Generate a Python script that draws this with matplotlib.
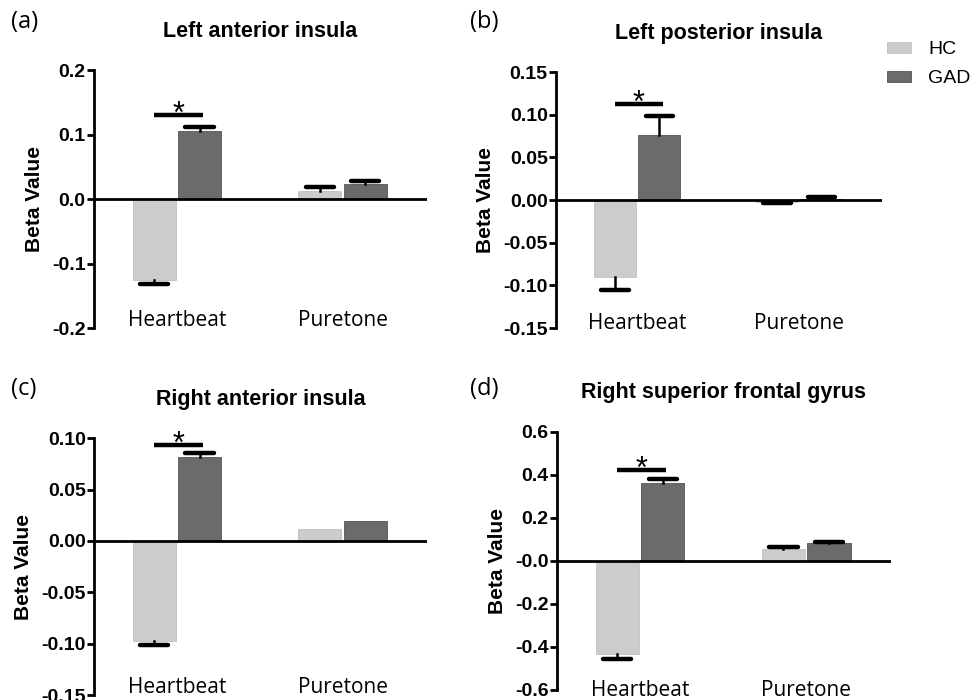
import numpy as np
import matplotlib.pyplot as plt

# data
conditions = ["Heartbeat", "Puretone"]
groups = ["HC", "GAD"]
titles = ["Left anterior insula", "Left posterior insula",
          "Right anterior insula", "Right superior frontal gyrus"]
panel_tags = ["(a)", "(b)", "(c)", "(d)"]

hc_means = [[-0.125, 0.013], [-0.090, -0.002], [-0.097, 0.012], [-0.431, 0.053]]
hc_errs = [[0.006, 0.006], [0.016, 0.002], [0.004, 0.0], [0.023, 0.009]]
gad_means = [[0.105, 0.024], [0.076, 0.001], [0.082, 0.019], [0.363, 0.081]]
gad_errs = [[0.006, 0.004], [0.022, 0.002], [0.004, 0.0], [0.019, 0.008]]
sig_heights = [0.131, 0.113, 0.0935, 0.422]

ylims = [(-0.2, 0.2), (-0.15, 0.15), (-0.15, 0.10), (-0.6, 0.6)]
yticks = [[-0.2, -0.1, 0.0, 0.1, 0.2],
          [-0.15, -0.10, -0.05, 0.0, 0.05, 0.10, 0.15],
          [-0.15, -0.10, -0.05, 0.0, 0.05, 0.10],
          [-0.6, -0.4, -0.2, 0.0, 0.2, 0.4, 0.6]]
ytick_labels = [["-0.2", "-0.1", "0.0", "0.1", "0.2"],
                ["-0.15", "-0.10", "-0.05", "0.00", "0.05", "0.10", "0.15"],
                ["-0.15", "-0.10", "-0.05", "0.00", "0.05", "0.10"],
                ["-0.6", "-0.4", "-0.2", "-0.0", "0.2", "0.4", "0.6"]]

hc_color = "#cccccc"
gad_color = "#6b6b6b"

# axes rectangles in figure fractions
rects = [[0.0967, 0.5314, 0.3426, 0.3686],
         [0.572, 0.5314, 0.3354, 0.3657],
         [0.0967, 0.0071, 0.3426, 0.367],
         [0.573, 0.0143, 0.3436, 0.369]]
cat_pads = [-13, -11, -13, -7]

plt.rcParams['font.family'] = ['Liberation Sans', 'DejaVu Sans']

fig = plt.figure(figsize=(9.72, 7), dpi=100)

x = np.arange(len(conditions))
off = 0.137
bw = 0.26
capw = 0.085


def draw_err(ax, xs, means, errs):
    means = np.array(means)
    errs = np.array(errs)
    ends = means + np.sign(means) * errs
    for xi, m, e, en in zip(xs, means, errs, ends):
        if e <= 0:
            continue
        ax.plot([xi, xi], [m, en], color="black", lw=1.8, zorder=3)
        ax.plot([xi - capw, xi + capw], [en, en], color="black", lw=3.2,
                solid_capstyle="round", zorder=3)


for i in range(4):
    ax = fig.add_axes(rects[i])
    ax.bar(x - off, hc_means[i], bw, color=hc_color, edgecolor="#c0c0c0",
           linewidth=0.6, label="HC", zorder=2)
    ax.bar(x + off, gad_means[i], bw, color=gad_color, edgecolor="#555555",
           linewidth=0.6, label="GAD", zorder=2)
    draw_err(ax, x - off, hc_means[i], hc_errs[i])
    draw_err(ax, x + off, gad_means[i], gad_errs[i])

    # significance marker on Heartbeat
    ax.plot([x[0] - off, x[0] + off + 0.02], [sig_heights[i]] * 2, color="black",
            lw=3.2, solid_capstyle="butt", zorder=3)
    ax.text(x[0] + 0.01, sig_heights[i], "*", ha="center", va="center",
            fontsize=22, zorder=4)

    ax.axhline(0, color="black", lw=2, zorder=4)
    ax.set_xlim(-0.5, 1.51)
    ax.set_ylim(*ylims[i])
    ax.set_yticks(yticks[i])
    ax.set_yticklabels(ytick_labels[i], fontsize=14, fontweight="bold")
    ax.set_xticks(x)
    ax.set_xticklabels(conditions, fontsize=15, family=["Open Sans", "DejaVu Sans"])
    ax.tick_params(axis="x", length=0, pad=cat_pads[i])
    ax.tick_params(axis="y", width=2, length=5, pad=1)
    for s in ["top", "right", "bottom"]:
        ax.spines[s].set_visible(False)
    ax.spines["left"].set_linewidth(2)
    ax.set_ylabel("Beta Value", fontsize=15, fontweight="bold", labelpad=6)
    ax.set_title(titles[i], fontsize=15.5, fontweight="bold", pad=24)
    ax.patch.set_alpha(0)

    if i == 1:
        ax.legend(loc="upper left", bbox_to_anchor=(0.99, 1.15), frameon=False,
                  fontsize=14, handlelength=1.25, handleheight=0.5,
                  labelspacing=0.6, handletextpad=0.9, borderaxespad=0)

tag_pos = [(0.011, 0.985), (0.484, 0.985), (0.011, 0.462), (0.484, 0.462)]
for tag, (tx, ty) in zip(panel_tags, tag_pos):
    fig.text(tx, ty, tag, fontsize=17, va="top", ha="left",
             family=["Open Sans", "DejaVu Sans"])

fig.savefig("out.png", dpi=100)
